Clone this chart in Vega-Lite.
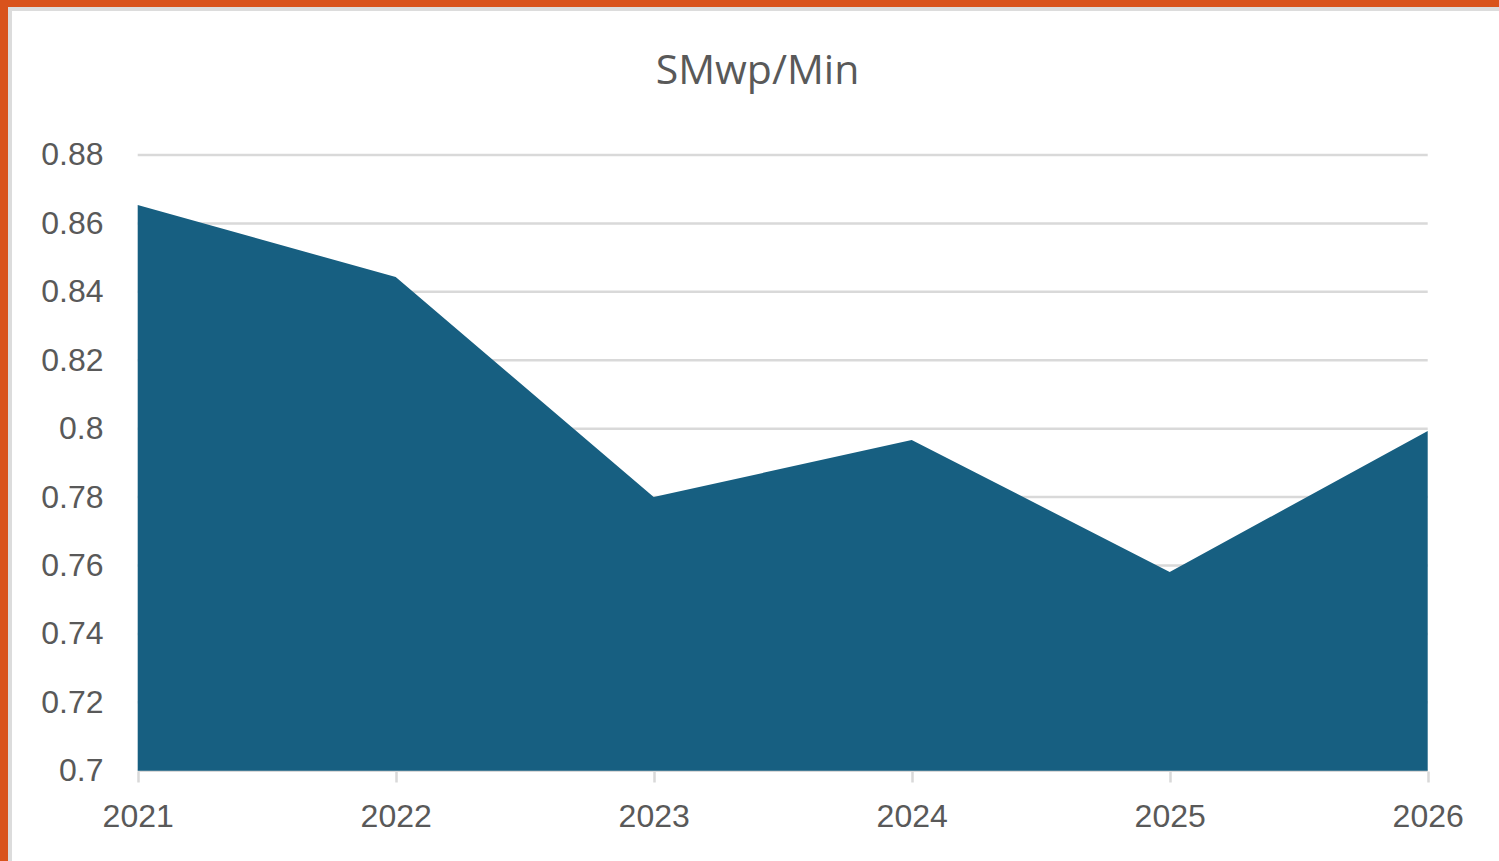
{
  "$schema": "https://vega.github.io/schema/vega-lite/v6.json",
  "autosize": "none",
  "width": 1495,
  "height": 857,
  "padding": {"left": 10, "top": 9, "right": 0, "bottom": 0},
  "background": "#d9531c",
  "title": {
    "text": "SMwp/Min",
    "anchor": "middle",
    "offset": -116,
    "baseline": "alphabetic",
    "font": "Open Sans",
    "fontSize": 41,
    "fontWeight": "normal",
    "color": "#595959"
  },
  "config": {
    "view": {"fill": "white", "stroke": "#dcdcdc", "strokeWidth": 4}
  },
  "datasets": {
    "series": [
      {"year": 2021, "value": 0.8654},
      {"year": 2022, "value": 0.8443},
      {"year": 2023, "value": 0.7800},
      {"year": 2024, "value": 0.7967},
      {"year": 2025, "value": 0.7581},
      {"year": 2026, "value": 0.7993}
    ],
    "grid": [
      {"value": 0.70}, {"value": 0.72}, {"value": 0.74}, {"value": 0.76}, {"value": 0.78},
      {"value": 0.80}, {"value": 0.82}, {"value": 0.84}, {"value": 0.86}, {"value": 0.88}
    ]
  },
  "encoding": {
    "y": {
      "field": "value",
      "type": "quantitative",
      "title": null,
      "scale": {"domain": [0.67214, 0.92268], "zero": false, "nice": false},
      "axis": {
        "orient": "left",
        "offset": -128,
        "values": [0.7, 0.72, 0.74, 0.76, 0.78, 0.8, 0.82, 0.84, 0.86, 0.88],
        "format": ".2~f",
        "domain": false,
        "ticks": false,
        "grid": false,
        "labelPadding": 35,
        "labelFont": "Liberation Sans",
        "labelFontSize": 32,
        "labelColor": "#595959",
        "labelOverlap": false,
        "labelBound": false,
        "labelFlush": false
      }
    }
  },
  "layer": [
    {
      "data": {"name": "grid"},
      "mark": {"type": "rule", "color": "#d9d9d9", "strokeWidth": 2.5},
      "encoding": {
        "x": {"datum": 2021, "type": "quantitative", "title": null},
        "x2": {"datum": 2026}
      }
    },
    {
      "data": {"name": "series"},
      "mark": {"type": "area", "color": "#175f81"},
      "encoding": {
        "x": {
          "field": "year",
          "type": "quantitative",
          "title": null,
          "scale": {"domain": [2020.50504, 2026.2996], "zero": false, "nice": false},
          "axis": {
            "orient": "bottom",
            "offset": -95,
            "values": [2021, 2022, 2023, 2024, 2025, 2026],
            "format": "d",
            "domain": false,
            "grid": false,
            "ticks": true,
            "tickSize": 11,
            "tickColor": "#d9d9d9",
            "tickWidth": 2.5,
            "labelPadding": 19,
            "labelFont": "Liberation Sans",
            "labelFontSize": 32,
            "labelColor": "#595959",
            "labelOverlap": false,
            "labelBound": false,
            "labelFlush": false
          }
        },
        "y2": {"datum": 0.7}
      }
    }
  ]
}
